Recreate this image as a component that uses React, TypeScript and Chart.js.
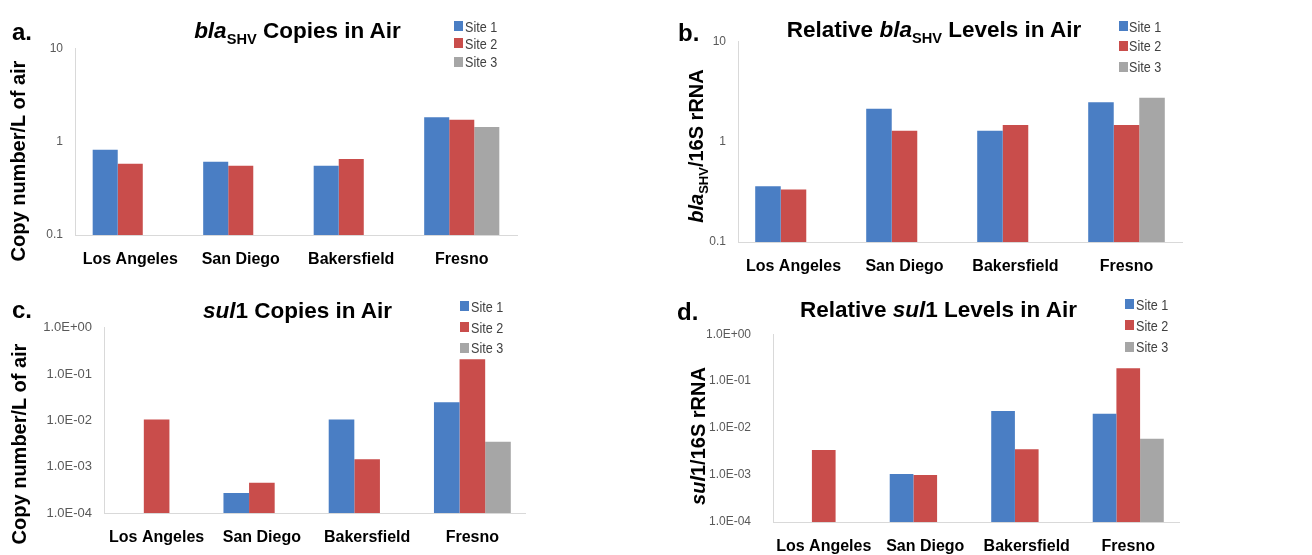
import React, { useEffect, useRef } from "react";
import { Chart, registerables } from "chart.js";

Chart.register(...registerables);

const FONT = "'Liberation Sans', Arial, Helvetica, sans-serif";
const NARROW = "'Liberation Sans Narrow', 'Arial Narrow', 'Liberation Sans', Arial, sans-serif";

// ---------- data ----------
const categories = ["Los Angeles", "San Diego", "Bakersfield", "Fresno"];
const seriesNames = ["Site 1", "Site 2", "Site 3"];
const seriesColors = ["#4a7ec4", "#c94d4b", "#a6a6a6"];

// a. blaSHV copies in air (copy number / L of air)
const blaCopiesSite1 = [0.82, 0.61, 0.55, 1.82];
const blaCopiesSite2 = [0.58, 0.55, 0.65, 1.71];
const blaCopiesSite3 = [null, null, null, 1.43];

// b. relative blaSHV levels (blaSHV / 16S rRNA)
const blaRelSite1 = [0.36, 2.12, 1.28, 2.47];
const blaRelSite2 = [0.333, 1.28, 1.46, 1.46];
const blaRelSite3 = [null, null, null, 2.74];

// c. sul1 copies in air
const sulCopiesSite1 = [null, 0.00027, 0.0105, 0.0247];
const sulCopiesSite2 = [0.0105, 0.00045, 0.00145, 0.21];
const sulCopiesSite3 = [null, null, null, 0.00345];

// d. relative sul1 levels (sul1 / 16S rRNA)
const sulRelSite1 = [null, 0.00105, 0.0232, 0.0203];
const sulRelSite2 = [0.0034, 0.001, 0.00355, 0.188];
const sulRelSite3 = [null, null, null, 0.0059];

// tick values and labels
const blaTickValues = [0.1, 1, 10];
const blaTickLabels = ["0.1", "1", "10"];
const sulTickValues = [0.0001, 0.001, 0.01, 0.1, 1];
const sulTickLabels = ["1.0E-04", "1.0E-03", "1.0E-02", "1.0E-01", "1.0E+00"];

// ---------- layout ----------
const Y_W = 66;
const PAD_TOP = 14;
const PAD_R = 10;
const X_H = 33;

type Panel = {
  key: string;
  letter: string;
  letterX: number;
  letterBase: number;
  series: (number | null)[][];
  tickValues: number[];
  tickLabels: string[];
  plot: { l: number; t: number; r: number; b: number };
  catPct: number;
  tickFont: { size: number; family: string };
  tickPad: number;
  title: React.ReactNode;
  titleX: number;
  titleBase: number;
  yTitle: React.ReactNode;
  yTitleX: number;
  yTitleY: number;
  squareX: number;
  textX: number;
  rows: number[];
};

const sub = (t: string) => (
  <span style={{ fontSize: "0.65em", position: "relative", top: "0.4em" }}>{t}</span>
);

const panels: Panel[] = [
  {
    key: "a", letter: "a.", letterX: 12, letterBase: 40,
    series: [blaCopiesSite1, blaCopiesSite2, blaCopiesSite3],
    tickValues: blaTickValues, tickLabels: blaTickLabels,
    plot: { l: 75, t: 43, r: 517, b: 235 }, catPct: 0.68,
    tickFont: { size: 12, family: FONT }, tickPad: 12,
    title: (<><i>bla</i>{sub("SHV")} Copies in Air</>), titleX: 297.5, titleBase: 39.3,
    yTitle: <>Copy number/L of air</>, yTitleX: 18, yTitleY: 160.5,
    squareX: 454, textX: 465, rows: [26, 43.3, 61.7],
  },
  {
    key: "b", letter: "b.", letterX: 678, letterBase: 41.7,
    series: [blaRelSite1, blaRelSite2, blaRelSite3],
    tickValues: blaTickValues, tickLabels: blaTickLabels,
    plot: { l: 738, t: 36, r: 1182, b: 242 }, catPct: 0.69,
    tickFont: { size: 12, family: FONT }, tickPad: 12,
    title: (<>Relative <i>bla</i>{sub("SHV")} Levels in Air</>), titleX: 934, titleBase: 38.3,
    yTitle: (<><i>bla</i>{sub("SHV")}/16S rRNA</>), yTitleX: 696, yTitleY: 146,
    squareX: 1119, textX: 1129, rows: [26, 45.7, 66.7],
  },
  {
    key: "c", letter: "c.", letterX: 12, letterBase: 318,
    series: [sulCopiesSite1, sulCopiesSite2, sulCopiesSite3],
    tickValues: sulTickValues, tickLabels: sulTickLabels,
    plot: { l: 104, t: 322, r: 525, b: 513 }, catPct: 0.73,
    tickFont: { size: 13, family: FONT }, tickPad: 12,
    title: (<><i>sul</i>1 Copies in Air</>), titleX: 297.5, titleBase: 319,
    yTitle: <>Copy number/L of air</>, yTitleX: 19, yTitleY: 444,
    squareX: 460, textX: 470.7, rows: [306, 327.3, 347.7],
  },
  {
    key: "d", letter: "d.", letterX: 677, letterBase: 320,
    series: [sulRelSite1, sulRelSite2, sulRelSite3],
    tickValues: sulTickValues, tickLabels: sulTickLabels,
    plot: { l: 773, t: 319, r: 1179, b: 522 }, catPct: 0.7,
    tickFont: { size: 12, family: NARROW }, tickPad: 22,
    title: (<>Relative <i>sul</i>1 Levels in Air</>), titleX: 938.5, titleBase: 317.7,
    yTitle: (<><i>sul</i>1/16S rRNA</>), yTitleX: 698, yTitleY: 436,
    squareX: 1125, textX: 1135.7, rows: [304, 325, 346.7],
  },
];

function PanelChart({ p }: { p: Panel }) {
  const ref = useRef<HTMLCanvasElement | null>(null);
  const width = p.plot.r - p.plot.l + Y_W + PAD_R;
  const height = p.plot.b - p.plot.t + PAD_TOP + X_H;

  useEffect(() => {
    if (!ref.current) return;
    const chart = new Chart(ref.current, {
      type: "bar",
      data: {
        labels: categories,
        datasets: p.series.map((d, i) => ({
          label: seriesNames[i],
          data: d as any,
          backgroundColor: seriesColors[i],
          borderWidth: 0,
          barPercentage: 1,
          categoryPercentage: p.catPct,
        })),
      },
      options: {
        animation: false,
        responsive: false,
        maintainAspectRatio: false,
        devicePixelRatio: 1,
        layout: { padding: { top: PAD_TOP, right: PAD_R, left: 0, bottom: 0 } },
        plugins: {
          legend: { display: false },
          title: { display: false },
          tooltip: { enabled: false },
        },
        scales: {
          x: {
            grid: { display: false, drawTicks: false },
            border: { display: true, color: "#d9d9d9", width: 1 },
            ticks: {
              font: { family: FONT, size: 16, weight: "bold" },
              color: "#000000",
              padding: 15,
              autoSkip: false,
              maxRotation: 0,
              minRotation: 0,
            },
            afterFit: (s: any) => { s.height = X_H; },
          },
          y: {
            type: "logarithmic",
            min: p.tickValues[0],
            max: p.tickValues[p.tickValues.length - 1],
            grid: { display: false, drawTicks: false },
            border: { display: true, color: "#d9d9d9", width: 1 },
            ticks: {
              font: p.tickFont,
              color: "#595959",
              padding: p.tickPad,
              callback: (_v: any, i: number) => p.tickLabels[i],
            },
            afterBuildTicks: (s: any) => {
              s.ticks = p.tickValues.map((v) => ({ value: v }));
            },
            afterFit: (s: any) => { s.width = Y_W; },
          },
        },
      } as any,
    });
    return () => chart.destroy();
  }, [p]);

  return (
    <canvas
      ref={ref}
      width={width}
      height={height}
      style={{
        position: "absolute",
        left: p.plot.l - Y_W,
        top: p.plot.t - PAD_TOP,
        width,
        height,
        display: "block",
      }}
    />
  );
}

function Overlay({ p }: { p: Panel }) {
  const tfs = 22.5;
  const lfs = 24;
  const yfs = 20;
  const gfs = 15;
  return (
    <>
      <div style={{ position: "absolute", left: p.letterX, top: p.letterBase - 0.85 * lfs, font: `bold ${lfs}px ${FONT}`, lineHeight: 1, whiteSpace: "nowrap", color: "#000" }}>
        {p.letter}
      </div>
      <div style={{ position: "absolute", left: p.titleX, top: p.titleBase - 0.85 * tfs, transform: "translateX(-50%)", font: `bold ${tfs}px ${FONT}`, lineHeight: 1, whiteSpace: "nowrap", color: "#000" }}>
        {p.title}
      </div>
      <div style={{ position: "absolute", left: p.yTitleX, top: p.yTitleY, transform: "translate(-50%, -50%) rotate(-90deg)", font: `bold ${yfs}px ${FONT}`, lineHeight: 1, whiteSpace: "nowrap", color: "#000" }}>
        {p.yTitle}
      </div>
      {p.rows.map((y, i) => (
        <React.Fragment key={i}>
          <div style={{ position: "absolute", left: p.squareX, top: y - 5, width: 9, height: 10, background: seriesColors[i] }} />
          <div style={{ position: "absolute", left: p.textX, top: y - 0.49 * gfs, font: `${gfs}px ${NARROW}`, lineHeight: 1, whiteSpace: "nowrap", color: "#404040", transform: "scaleX(0.84)", transformOrigin: "0 50%" }}>
            {seriesNames[i]}
          </div>
        </React.Fragment>
      ))}
    </>
  );
}

export default function App() {
  return (
    <div style={{ position: "absolute", left: 0, top: 0, width: 1312, height: 555, overflow: "hidden", background: "#ffffff", fontFamily: FONT }}>
      {panels.map((p) => (
        <PanelChart key={p.key} p={p} />
      ))}
      {panels.map((p) => (
        <Overlay key={"o" + p.key} p={p} />
      ))}
    </div>
  );
}
